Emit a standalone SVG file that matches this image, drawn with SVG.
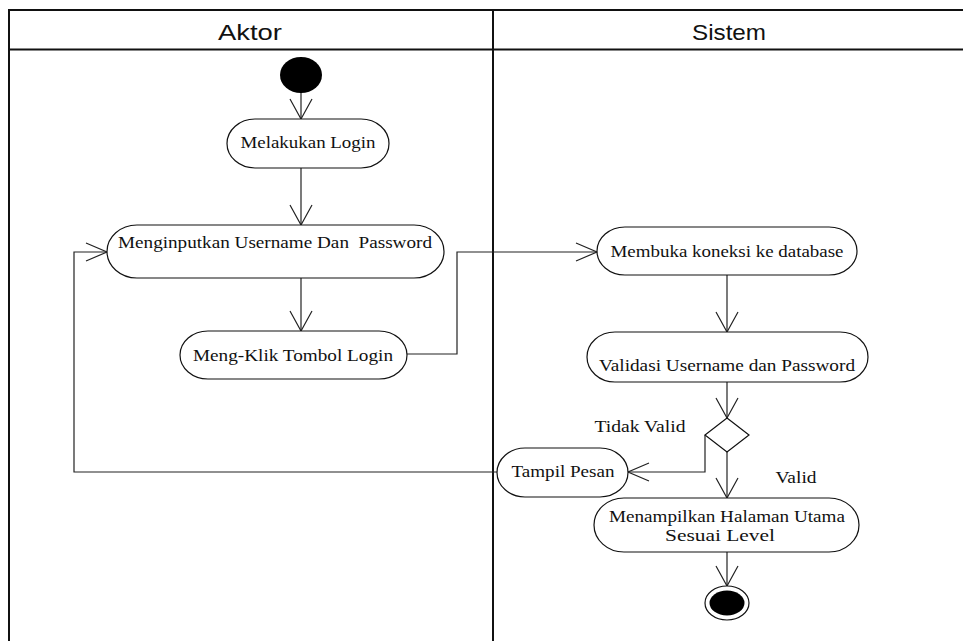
<svg xmlns="http://www.w3.org/2000/svg" width="963" height="641" viewBox="0 0 963 641">
<defs>
<style>
.frame{fill:none;stroke:#111;stroke-width:2}
.node{fill:#fff;stroke:#111;stroke-width:1.2}
.t{font-family:"Liberation Serif","Times New Roman",serif;font-size:16px;fill:#111;text-anchor:middle;white-space:pre}
.h{font-family:"Liberation Sans",Arial,sans-serif;font-size:22px;fill:#111;text-anchor:middle}
.c{fill:none;stroke:#222;stroke-width:1.2}
.cv{fill:none;stroke:#222;stroke-width:1.2;marker-end:url(#arrV)}
.ch{fill:none;stroke:#222;stroke-width:1.2;marker-end:url(#arrH)}
</style>
<marker id="arrV" viewBox="-22 -13 24 26" markerWidth="24" markerHeight="26" refX="0" refY="0" orient="auto" markerUnits="userSpaceOnUse">
<path d="M-20,-11 L0,0 L-20,11" fill="none" stroke="#222" stroke-width="1.2"/>
</marker>
<marker id="arrH" viewBox="-23 -11 25 22" markerWidth="25" markerHeight="22" refX="0" refY="0" orient="auto" markerUnits="userSpaceOnUse">
<path d="M-21,-9 L0,0 L-21,9" fill="none" stroke="#222" stroke-width="1.2"/>
</marker>
</defs>
<rect width="963" height="641" fill="#fff"/>
<g id="swimlanes">
<path class="frame" d="M9,641 V10 H963"/>
<line class="frame" x1="9" y1="49.5" x2="963" y2="49.5" stroke-width="1.6"/>
<line class="frame" x1="493" y1="10" x2="493" y2="641"/>
<text class="h" x="250" y="40" textLength="64" lengthAdjust="spacingAndGlyphs">Aktor</text>
<text class="h" x="729" y="40" textLength="74" lengthAdjust="spacingAndGlyphs">Sistem</text>
</g>
<g id="connectors">
<line class="cv" x1="301" y1="93" x2="301" y2="119"/>
<line class="cv" x1="301" y1="168" x2="301" y2="225"/>
<line class="cv" x1="301" y1="278" x2="301" y2="331"/>
<path class="ch" d="M407,354 H457 V252 H597"/>
<line class="cv" x1="727" y1="275" x2="727" y2="332"/>
<line class="cv" x1="727" y1="382" x2="727" y2="418"/>
<path class="ch" d="M705,435 V472 H628"/>
<line class="cv" x1="727" y1="452" x2="727" y2="498"/>
<line class="cv" x1="727" y1="552" x2="727" y2="586"/>
<path class="ch" d="M497,472 H74 V252 H107"/>
</g>
<g id="start">
<ellipse cx="301" cy="75" rx="21" ry="18" fill="#000"/>
</g>
<g id="melakukan-login">
<rect class="node" x="227" y="119" width="162" height="49" rx="28" ry="24.5"/>
<text class="t" x="308" y="148" textLength="135" lengthAdjust="spacingAndGlyphs">Melakukan Login</text>
</g>
<g id="menginputkan">
<rect class="node" x="107" y="225" width="337" height="53" rx="30" ry="26.5"/>
<text class="t" x="275" y="248" textLength="314" lengthAdjust="spacingAndGlyphs" xml:space="preserve">Menginputkan Username Dan  Password</text>
</g>
<g id="meng-klik">
<rect class="node" x="180" y="331" width="227" height="48" rx="28" ry="24"/>
<text class="t" x="293" y="361" textLength="200" lengthAdjust="spacingAndGlyphs">Meng-Klik Tombol Login</text>
</g>
<g id="membuka-koneksi">
<rect class="node" x="597" y="227" width="260" height="48" rx="28" ry="24"/>
<text class="t" x="727" y="257" textLength="233" lengthAdjust="spacingAndGlyphs">Membuka koneksi ke database</text>
</g>
<g id="validasi">
<rect class="node" x="587" y="332" width="281" height="50" rx="28" ry="25"/>
<text class="t" x="727" y="371" textLength="256" lengthAdjust="spacingAndGlyphs">Validasi Username dan Password</text>
</g>
<g id="decision">
<polygon points="727,418 749,435 727,452 705,435" fill="#fff" stroke="#111" stroke-width="1.2"/>
<text class="t" x="640" y="432" textLength="91" lengthAdjust="spacingAndGlyphs">Tidak Valid</text>
<text class="t" x="796" y="483" textLength="41" lengthAdjust="spacingAndGlyphs">Valid</text>
</g>
<g id="tampil-pesan">
<rect class="node" x="497" y="448" width="131" height="49" rx="28" ry="24.5"/>
<text class="t" x="563" y="477" textLength="103" lengthAdjust="spacingAndGlyphs">Tampil Pesan</text>
</g>
<g id="menampilkan">
<rect class="node" x="594" y="498" width="265" height="54" rx="30" ry="27"/>
<text class="t" x="727" y="522" textLength="236" lengthAdjust="spacingAndGlyphs">Menampilkan Halaman Utama</text>
<text class="t" x="720" y="541" textLength="110" lengthAdjust="spacingAndGlyphs">Sesuai Level</text>
</g>
<g id="end">
<ellipse cx="727" cy="603" rx="22" ry="17" fill="#fff" stroke="#111" stroke-width="1.2"/>
<ellipse cx="727" cy="603" rx="17.5" ry="12.5" fill="#000"/>
</g>
</svg>
